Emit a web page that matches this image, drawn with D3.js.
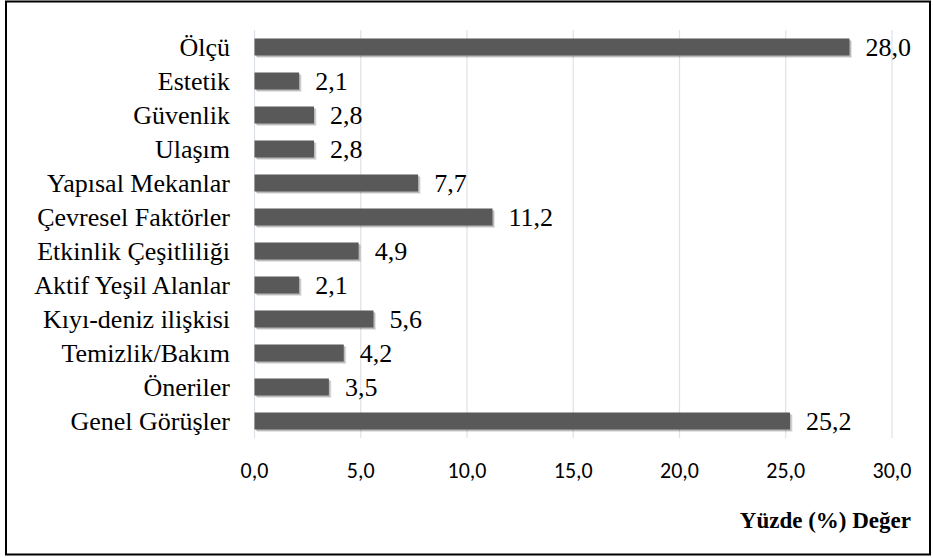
<!DOCTYPE html>
<html>
<head>
<meta charset="utf-8">
<script src="https://cdn.jsdelivr.net/npm/d3@7/dist/d3.min.js"></script>
<style>
  body { margin: 0; background: #fff; }
  svg { display: block; }
  .serif { font-family: "Liberation Serif", "Times New Roman", Times, serif; }
  .sans { font-family: Carlito, Calibri, "Open Sans", sans-serif; }
</style>
</head>
<body>
<svg id="chart" width="933" height="558"></svg>
<script>
// Categories, top to bottom
const categories = [
  "Ölçü", "Estetik", "Güvenlik", "Ulaşım", "Yapısal Mekanlar",
  "Çevresel Faktörler", "Etkinlik Çeşitliliği", "Aktif Yeşil Alanlar",
  "Kıyı-deniz ilişkisi", "Temizlik/Bakım", "Öneriler", "Genel Görüşler"
];
// Percentage values
const values = [28.0, 2.1, 2.8, 2.8, 7.7, 11.2, 4.9, 2.1, 5.6, 4.2, 3.5, 25.2];
const tickValues = [0, 5, 10, 15, 20, 25, 30];
const axisTitle = "Yüzde (%) Değer";

const fmt = v => v.toFixed(1).replace(".", ",");

const svg = d3.select("#chart");

// Outer frame
svg.append("rect")
  .attr("x", 6).attr("y", 1.5)
  .attr("width", 924).attr("height", 553)
  .attr("fill", "none").attr("stroke", "#000").attr("stroke-width", 2);

const x = d3.scaleLinear().domain([0, 30]).range([254.5, 892]);
const y = d3.scaleBand().domain(categories).range([30, 438]).paddingInner(0.5).paddingOuter(0.25);

// Vertical gridlines
svg.append("g").selectAll("line")
  .data(tickValues)
  .join("line")
  .attr("x1", d => x(d)).attr("x2", d => x(d))
  .attr("y1", 30).attr("y2", 438)
  .attr("stroke", "#dde2e8").attr("stroke-width", 1.2);

// Soft shadow under each bar (two offset translucent layers)
[[2.5, 0.10], [1.5, 0.18]].forEach(([off, op]) => {
  svg.append("g").selectAll("rect")
    .data(values)
    .join("rect")
    .attr("x", x(0) + off)
    .attr("y", (d, i) => y(categories[i]) + off)
    .attr("width", d => x(d) - x(0))
    .attr("height", y.bandwidth())
    .attr("fill", "#000")
    .attr("fill-opacity", op);
});

// Bars
svg.append("g").selectAll("rect")
  .data(values)
  .join("rect")
  .attr("x", x(0))
  .attr("y", (d, i) => y(categories[i]))
  .attr("width", d => x(d) - x(0))
  .attr("height", y.bandwidth())
  .attr("fill", "#595959");

// Value labels
svg.append("g").selectAll("text")
  .data(values)
  .join("text")
  .attr("class", "serif")
  .attr("x", d => x(d) + 16)
  .attr("y", (d, i) => y(categories[i]) + y.bandwidth() / 2)
  .attr("dy", "0.35em")
  .attr("font-size", 26)
  .attr("fill", "#000")
  .text(d => fmt(d));

// Category labels, right-aligned against the plot
svg.append("g").selectAll("text")
  .data(categories)
  .join("text")
  .attr("class", "serif")
  .attr("x", 230)
  .attr("y", d => y(d) + y.bandwidth() / 2)
  .attr("dy", "0.35em")
  .attr("text-anchor", "end")
  .attr("font-size", 26)
  .attr("fill", "#000")
  .text(d => d);

// Value axis tick labels
svg.append("g").selectAll("text")
  .data(tickValues)
  .join("text")
  .attr("class", "sans")
  .attr("x", d => x(d))
  .attr("y", 470)
  .attr("dy", "0.35em")
  .attr("text-anchor", "middle")
  .attr("font-size", 22)
  .attr("fill", "#000")
  .text(d => fmt(d));

// Axis title
svg.append("text")
  .attr("class", "serif")
  .attr("x", 911).attr("y", 528)
  .attr("text-anchor", "end")
  .attr("font-weight", "bold")
  .attr("font-size", 23)
  .attr("fill", "#000")
  .text(axisTitle);
</script>
</body>
</html>
